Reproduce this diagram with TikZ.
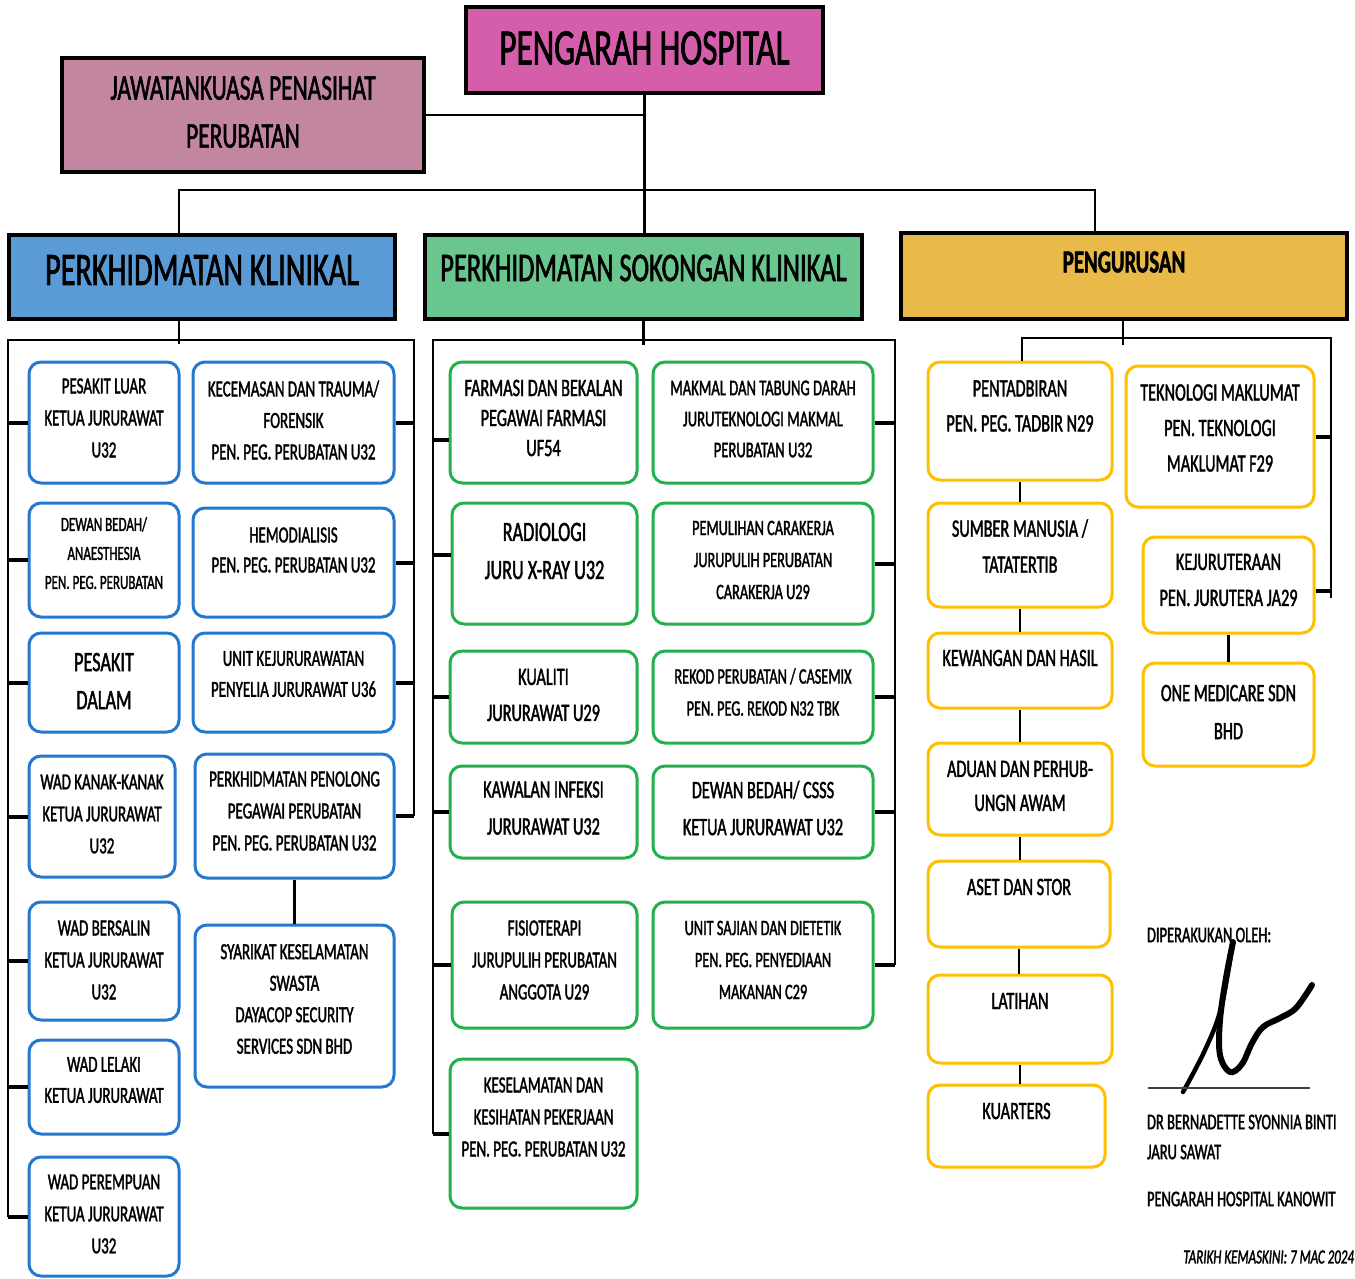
\documentclass[tikz,border=0pt]{standalone}
\usepackage{fontspec}
\setmainfont{Carlito}[FakeStretch=0.65, FakeBold=1.5]
\usetikzlibrary{calc}
\definecolor{cPH}{HTML}{D45EAA}
\definecolor{cJK}{HTML}{C386A1}
\definecolor{cPK}{HTML}{5B9BD5}
\definecolor{cPS}{HTML}{69C68E}
\definecolor{cPG}{HTML}{E9B949}
\definecolor{cBB}{HTML}{2478CF}
\definecolor{cGB}{HTML}{22B14C}
\definecolor{cYB}{HTML}{FFC000}
\newcommand\fsz[2]{\fontsize{#1}{#2}\selectfont}
\newcommand\bx[9]{%
  \node[#2, minimum width={#5-#3}, minimum height={#6-#4}] (#1) at ({(#3+#5)/2},{(#4+#6)/2}) {};
  \node[tx, font=#8] (#1-t) at ({(#3+#5)/2},#7) {#9};}
\tikzset{
  tx/.style={inner sep=0pt, outer sep=0pt, align=center, text=black},
  hdr/.style={draw=black, line width=3.5pt, inner sep=0pt},
  rbox/.style={fill=white, line width=3pt, rounded corners=12pt, inner sep=0pt},
  bb/.style={rbox, draw=cBB},
  gb/.style={rbox, draw=cGB},
  yb/.style={rbox, draw=cYB},
  ln/.style={draw=black, line width=2.5pt},
  tk/.style={draw=black, line width=4pt},
}
\begin{document}
\begin{tikzpicture}[x=1pt, y=-1pt]
\useasboundingbox[fill=white] (0,0) rectangle (1355,1278);

% headers
\bx{ph}{hdr,fill=cPH}{466}{7}{823}{93}{48}{\fsz{51}{51}}{PENGARAH HOSPITAL}
\bx{jk}{hdr,fill=cJK}{62}{58}{424}{172}{112}{\fsz{36}{48}}{JAWATANKUASA PENASIHAT\\PERUBATAN}
\bx{pk}{hdr,fill=cPK}{9}{235}{395}{319}{270}{\fsz{46.5}{46}}{PERKHIDMATAN KLINIKAL}
\bx{ps}{hdr,fill=cPS}{425}{235}{862}{319}{268}{\fsz{40.7}{40}}{PERKHIDMATAN SOKONGAN KLINIKAL}
\bx{pg}{hdr,fill=cPG}{901}{233}{1347}{319}{262}{\bfseries\fsz{32}{32}}{PENGURUSAN}

% klinikal
\bx{a1}{bb}{29}{362}{179}{483}{418}{\fsz{23}{32}}{PESAKIT LUAR\\KETUA JURURAWAT\\U32}
\bx{a2}{bb}{29}{503}{179}{617}{553}{\fsz{20}{29}}{DEWAN BEDAH/\\ANAESTHESIA\\PEN. PEG. PERUBATAN}
\bx{a3}{bb}{29}{633}{179}{732}{681}{\fsz{28}{38}}{PESAKIT\\DALAM}
\bx{a4}{bb}{29}{756}{175}{877}{814}{\fsz{23}{32}}{WAD KANAK-KANAK\\KETUA JURURAWAT\\U32}
\bx{a5}{bb}{29}{902}{179}{1020}{960}{\fsz{23}{32}}{WAD BERSALIN\\KETUA JURURAWAT\\U32}
\bx{a6}{bb}{29}{1040}{179}{1134}{1080}{\fsz{23}{31}}{WAD LELAKI\\KETUA JURURAWAT}
\bx{a7}{bb}{29}{1157}{179}{1276}{1214}{\fsz{23}{32}}{WAD PEREMPUAN\\KETUA JURURAWAT\\U32}
\bx{b1}{bb}{193}{362}{394}{483}{420}{\fsz{23}{31.5}}{KECEMASAN DAN TRAUMA/\\FORENSIK\\PEN. PEG. PERUBATAN U32}
\bx{b2}{bb}{193}{508}{394}{617}{550}{\fsz{23}{30}}{HEMODIALISIS\\PEN. PEG. PERUBATAN U32}
\bx{b3}{bb}{193}{633}{394}{732}{674}{\fsz{23}{31}}{UNIT KEJURURAWATAN\\PENYELIA JURURAWAT U36}
\bx{b4}{bb}{195}{754}{394}{878}{811}{\fsz{23}{32}}{PERKHIDMATAN PENOLONG\\PEGAWAI PERUBATAN\\PEN. PEG. PERUBATAN U32}
\bx{b5}{bb}{195}{925}{394}{1087}{999}{\fsz{23}{31.5}}{SYARIKAT KESELAMATAN\\SWASTA\\DAYACOP SECURITY\\SERVICES SDN BHD}

% sokongan
\bx{c1}{gb}{450}{362}{637}{483}{418}{\fsz{25}{30}}{FARMASI DAN BEKALAN\\PEGAWAI FARMASI\\UF54}
\bx{c2}{gb}{452}{503}{637}{624}{551}{\fsz{28}{38}}{RADIOLOGI\\JURU X-RAY U32}
\bx{c3}{gb}{450}{651}{637}{743}{695}{\fsz{25}{36}}{KUALITI\\JURURAWAT U29}
\bx{c4}{gb}{450}{766}{637}{858}{808}{\fsz{25}{37}}{KAWALAN INFEKSI\\JURURAWAT U32}
\bx{c5}{gb}{452}{902}{637}{1028}{960}{\fsz{23}{32}}{FISIOTERAPI\\JURUPULIH PERUBATAN\\ANGGOTA U29}
\bx{c6}{gb}{450}{1059}{637}{1208}{1117}{\fsz{23}{32}}{KESELAMATAN DAN\\KESIHATAN PEKERJAAN\\PEN. PEG. PERUBATAN U32}
\bx{d1}{gb}{653}{362}{873}{483}{419}{\fsz{22.5}{31}}{MAKMAL DAN TABUNG DARAH\\JURUTEKNOLOGI MAKMAL\\PERUBATAN U32}
\bx{d2}{gb}{653}{503}{873}{624}{560}{\fsz{22}{32}}{PEMULIHAN CARAKERJA\\JURUPULIH PERUBATAN\\CARAKERJA U29}
\bx{d3}{gb}{653}{651}{873}{743}{692}{\fsz{22}{32}}{REKOD PERUBATAN / CASEMIX\\PEN. PEG. REKOD N32 TBK}
\bx{d4}{gb}{653}{766}{873}{858}{808}{\fsz{25}{37}}{DEWAN BEDAH/ CSSS\\KETUA JURURAWAT U32}
\bx{d5}{gb}{653}{902}{873}{1028}{960}{\fsz{22}{32}}{UNIT SAJIAN DAN DIETETIK\\PEN. PEG. PENYEDIAAN\\MAKANAN C29}

% pengurusan
\bx{e1}{yb}{928}{362}{1112}{480}{406}{\fsz{25}{35}}{PENTADBIRAN\\PEN. PEG. TADBIR N29}
\bx{e2}{yb}{928}{503}{1112}{607}{546}{\fsz{25}{36}}{SUMBER MANUSIA /\\TATATERTIB}
\bx{e3}{yb}{928}{633}{1112}{708}{658}{\fsz{25}{36}}{KEWANGAN DAN HASIL}
\bx{e4}{yb}{928}{743}{1112}{835}{786}{\fsz{25}{34}}{ADUAN DAN PERHUB-\\UNGN AWAM}
\bx{e5}{yb}{928}{861}{1110}{947}{887}{\fsz{25}{34}}{ASET DAN STOR}
\bx{e6}{yb}{928}{975}{1112}{1063}{1001}{\fsz{25}{34}}{LATIHAN}
\bx{e7}{yb}{928}{1085}{1105}{1167}{1111}{\fsz{25}{34}}{KUARTERS}
\bx{f1}{yb}{1126}{366}{1314}{507}{428}{\fsz{25}{35.5}}{TEKNOLOGI MAKLUMAT\\PEN. TEKNOLOGI\\MAKLUMAT F29}
\bx{f2}{yb}{1143}{537}{1314}{633}{580}{\fsz{25}{36}}{KEJURUTERAAN\\PEN. JURUTERA JA29}
\bx{f3}{yb}{1143}{663}{1314}{766}{712}{\fsz{25}{38}}{ONE MEDICARE SDN\\BHD}

% top connectors
\coordinate (j1) at (ph.south |- jk.east);
\draw[ln] (ph.south) -- (ph.south |- ps.north);
\draw[ln] (jk.east) -- (j1);
\coordinate (tb1) at (179,190);
\coordinate (tb2) at (1095,190);
\draw[ln] (tb1 |- pk.north) -- (tb1) -- (tb2) -- (tb2 |- pg.north);

% klinikal connectors
\coordinate (kL) at (8,340);
\coordinate (kR) at (414,340);
\coordinate (kT) at (179,340);
\draw[ln] (kT |- pk.south) -- ([yshift=-4pt]kT);
\draw[ln] (kL |- a7.west) -- (kL) -- (kR) -- (kR |- b4.east);
\foreach \n in {a1,a2,a3,a4,a5,a6,a7} \draw[tk] (kL |- \n.west) -- (\n.west);
\foreach \n in {b1,b2,b3,b4} \draw[tk] (\n.east) -- (kR |- \n.east);
\draw[ln] (b4.south) -- (b5.north);

% sokongan connectors
\coordinate (sL) at (433,340);
\coordinate (sR) at (895,340);
\coordinate (sT) at (643,340);
\draw[ln] (ps.south) -- ([yshift=-5pt]ps.south |- sT);
\draw[ln] (sL |- c6.west) -- (sL) -- (sR) -- (sR |- d5.east);
\coordinate (c1w) at ([yshift=-17.5pt]c1.west);
\coordinate (c2w) at ([yshift=8.5pt]c2.west);
\draw[tk] (sL |- c1w) -- (c1w);
\draw[tk] (sL |- c2w) -- (c2w);
\foreach \n in {c3,c4,c5,c6} \draw[tk] (sL |- \n.west) -- (\n.west);
\foreach \n in {d1,d2,d3,d4,d5} \draw[tk] (\n.east) -- (sR |- \n.east);

% pengurusan connectors
\coordinate (gT) at (1123,338);
\coordinate (gL) at (1022,338);
\coordinate (gR) at (1331,338);
\coordinate (gB) at (1331,598);
\coordinate (f2e) at ([yshift=-6pt]f2.east);
\draw[ln] (gT |- pg.south) -- ([yshift=-7pt]gT);
\draw[ln] (gL |- e1.north) -- (gL) -- (gR) -- (gB);
\draw[tk] (f1.east) -- (gR |- f1.east);
\draw[tk] (f2e) -- (gR |- f2e);
\draw[ln] (e1.south) -- (e1.south |- e2.north);
\draw[ln] (e2.south) -- (e2.south |- e3.north);
\draw[ln] (e3.south) -- (e3.south |- e4.north);
\draw[ln] (e4.south) -- (e4.south |- e5.north);
\draw[ln] (e5.south) -- (e5.south |- e6.north);
\draw[ln] (e6.south) -- (e6.south |- e7.north);
\draw[ln] (f2.south) -- (f3.north);

% signature block
\node[tx, anchor=west, font=\fsz{22.3}{22}] (sg1) at (1147,935) {DIPERAKUKAN OLEH:};
\draw[line width=4.5pt, line cap=round, line join=round] plot[smooth, tension=0.6] coordinates {(1183,1092) (1205,1050) (1221,1008) (1233,942)};
\draw[line width=6pt, line cap=round, line join=round] plot[smooth, tension=0.6] coordinates {(1233,942) (1226,978) (1220,1020) (1220,1055) (1230,1072) (1242,1064) (1252,1043) (1263,1027) (1280,1018) (1296,1008) (1312,985)};
\draw[draw=black!75, line width=1.5pt] (1148,1088) -- (1310,1088);
\node[tx, anchor=west, font=\fsz{22.3}{22}] (sg2) at (1147,1122) {DR BERNADETTE SYONNIA BINTI};
\node[tx, anchor=west, font=\fsz{22.3}{22}] (sg3) at (1147,1152) {JARU SAWAT};
\node[tx, anchor=west, font=\fsz{22.3}{22}] (sg4) at (1147,1199) {PENGARAH HOSPITAL KANOWIT};
\node[tx, anchor=east, font=\itshape\fsz{20}{20}] (dt) at (1354,1257) {TARIKH KEMASKINI: 7 MAC 2024};
\end{tikzpicture}
\end{document}
